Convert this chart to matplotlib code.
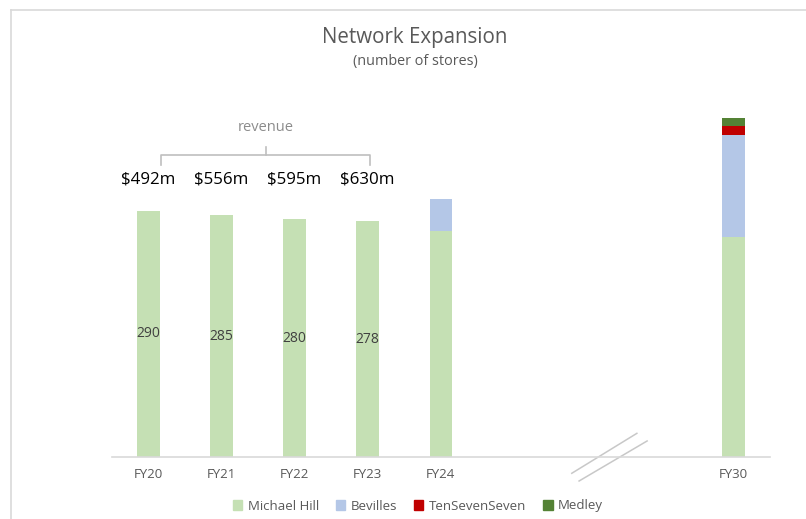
import matplotlib
matplotlib.use("Agg")
import matplotlib.pyplot as plt
from matplotlib.lines import Line2D
import numpy as np

plt.rcParams['font.family'] = ['Open Sans', 'DejaVu Sans']

categories = ["FY20", "FY21", "FY22", "FY23", "FY24", "FY30"]
michael_hill = [290, 285, 280, 278, 267, 259]
bevilles = [0, 0, 0, 0, 37, 121]
tensevenseven = [0, 0, 0, 0, 0, 10]
medley = [0, 0, 0, 0, 0, 10]
bar_labels = ["290", "285", "280", "278", "", ""]
revenue = ["$492m", "$556m", "$595m", "$630m"]

colors = {"Michael Hill": "#c5e0b4", "Bevilles": "#b4c7e7",
          "TenSevenSeven": "#c00000", "Medley": "#548235"}

x = np.array([0, 1, 2, 3, 4, 8])
W, H = 806, 519
fig = plt.figure(figsize=(W / 100, H / 100), dpi=100)
ax_left, ax_right = 111.7 / W, 770 / W
ax_bottom = 1 - 457 / H
ymax = 420
ax_h = ymax * 0.8483 / H
ax = fig.add_axes([ax_left, ax_bottom, ax_right - ax_left, ax_h])

width = 0.31
series = [("Michael Hill", michael_hill), ("Bevilles", bevilles),
          ("TenSevenSeven", tensevenseven), ("Medley", medley)]
bottom = np.zeros(len(x))
for name, vals in series:
    vals = np.array(vals, dtype=float)
    ax.bar(x, vals, width, bottom=bottom, color=colors[name], label=name, zorder=2)
    bottom += vals

for xi, v, lab in zip(x, michael_hill, bar_labels):
    if lab:
        ax.text(xi, v / 2, lab, ha="center", va="center", fontsize=10, color="#404040")

ax.set_xlim(-0.5, 8.5)
ax.set_ylim(0, ymax)
ax.set_xticks(x)
ax.set_xticklabels(categories, fontsize=9.5, color="#595959")
ax.tick_params(axis="x", length=0, pad=8)
ax.set_yticks([])
for s in ["top", "right", "left"]:
    ax.spines[s].set_visible(False)
ax.spines["bottom"].set_color("#d9d9d9")
ax.spines["bottom"].set_linewidth(1.2)

# revenue labels
for xi, r in zip(x[:4], revenue):
    ax.text(xi, 327, r, ha="center", va="center", fontsize=12.2, color="#000000")

# bracket
bc = "#bfbfbf"
ax.plot([0.17, 0.17, 3.03, 3.03], [344, 356, 356, 344], color=bc, lw=1.2,
        solid_joinstyle="round")
ax.plot([1.61, 1.61], [356, 366], color=bc, lw=1.2)
ax.text(1.61, 389, "revenue", ha="center", va="center", fontsize=10.5, color="#8c8c8c")

# axis break marks
ax.plot([5.79, 6.68], [-19.2, 27.9], color="#c8c8c8", lw=1.1, clip_on=False)
ax.plot([5.89, 6.82], [-28.3, 18.9], color="#c8c8c8", lw=1.1, clip_on=False)

# titles
fig.text(415 / W, 1 - 38 / H, "Network Expansion", ha="center", va="center",
         fontsize=14.8, color="#595959")
fig.text(415 / W, 1 - 62 / H, "(number of stores)", ha="center", va="center",
         fontsize=10.4, color="#595959")

# legend
handles = [plt.Rectangle((0, 0), 1, 1, color=colors[n]) for n, _ in series]
fig.legend(handles, [n for n, _ in series], loc="center", ncol=4,
           bbox_to_anchor=(418 / W, 1 - 506 / H), frameon=False, fontsize=9.5,
           labelcolor="#595959", handlelength=0.7, handleheight=0.7,
           handletextpad=0.4, columnspacing=1.3)

# chart border
fig.add_artist(Line2D([11 / W, 1.0], [1 - 10 / H, 1 - 10 / H], color="#d9d9d9", lw=1.2))
fig.add_artist(Line2D([11 / W, 11 / W], [0, 1 - 10 / H], color="#d9d9d9", lw=1.2))

fig.savefig("out.png", dpi=100)
